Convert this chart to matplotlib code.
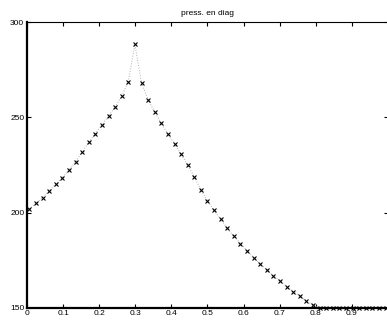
import numpy as np
import matplotlib
matplotlib.use("Agg")
import matplotlib.pyplot as plt

plt.rcParams['font.family'] = ['Liberation Sans', 'DejaVu Sans']

title = "press. en diag"
x_first, x_last, n_pts = 0.0064, 0.9936, 55
pressure = [
    201.7, 204.9, 207.8, 211.4, 214.9, 218.3, 222.4, 226.6, 231.8, 236.9,
    241.5, 246.0, 250.8, 255.5, 261.1, 268.8, 288.4,
    268.1, 259.3, 252.9, 246.9, 241.3, 236.0, 230.8, 225.0, 218.8, 211.9,
    206.3, 201.1, 196.4, 191.8, 187.5, 183.7, 180.0, 176.3, 173.0, 169.8,
    166.8, 164.1, 161.1, 158.4, 156.0, 153.5, 151.3,
    150.0, 150.0, 150.0, 150.0, 150.0, 150.0, 150.0, 150.0, 150.0, 150.0, 150.0,
]
xticks = [0, 0.1, 0.2, 0.3, 0.4, 0.5, 0.6, 0.7, 0.8, 0.9]
xticklabels = ["0", "0.1", "0.2", "0.3", "0.4", "0.5", "0.6", "0.7", "0.8", "0.9"]
yticks = [150, 200, 250, 300]
yticklabels = ["150", "200", "250", "300"]

xs = np.linspace(x_first, x_last, n_pts)

W, H = 387, 323
fig = plt.figure(figsize=(W / 100, H / 100), dpi=100)
ax = fig.add_axes([27 / W, (H - 307.7) / H, 361 / W, (307.7 - 22.3) / H])

ax.plot(xs, pressure, linestyle=':', color='#b0b0b0', linewidth=0.7, zorder=2)
ax.plot(xs, pressure, linestyle='none', marker='x', color='black',
        markersize=2.6, markeredgewidth=0.8, zorder=3, clip_on=False)

ax.set_xlim(0, 1)
ax.set_ylim(150, 300)
ax.set_xticks(xticks)
ax.set_xticklabels(xticklabels)
ax.set_yticks(yticks)
ax.set_yticklabels(yticklabels)
ax.tick_params(direction='in', length=3, width=0.8, labelsize=6, pad=2,
               top=True, right=True, colors='black')
ax.set_title(title, fontsize=6, pad=5)

ax.spines['left'].set_linewidth(1.6)
ax.spines['bottom'].set_linewidth(1.6)
ax.spines['top'].set_linewidth(0.8)
ax.spines['right'].set_linewidth(0.8)

fig.savefig("out.png", dpi=100)
